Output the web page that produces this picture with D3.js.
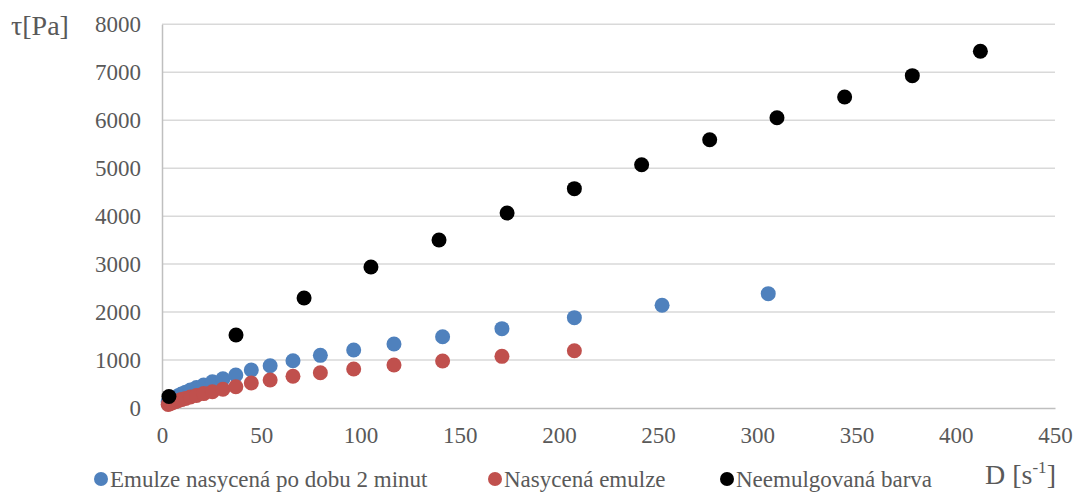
<!DOCTYPE html>
<html><head><meta charset="utf-8">
<script src="https://cdn.jsdelivr.net/npm/d3@7"></script>
<style>body{margin:0;background:#fff}svg{display:block}
svg text{font-family:"Times New Roman","Liberation Serif",Tinos,"DejaVu Serif",serif !important;fill:#595959}</style>
</head><body><svg id="c" width="1075" height="492"></svg>
<script>
const xTicks = [0,50,100,150,200,250,300,350,400,450];
const yTicks = [0,1000,2000,3000,4000,5000,6000,7000,8000];
const seriesNames = ["Emulze nasycená po dobu 2 minut","Nasycená emulze","Neemulgovaná barva"];
const seriesColors = ["#4F81BD","#C0504D","#000000"];

const blueX = [3.1,3.8,4.6,5.5,6.7,8.1,9.8,11.9,14.3,17.4,21.0,25.4,30.7,37.2,45.0,54.5,66.0,79.8,96.6,116.9,141.4,171.3,207.8,252.0,305.5];
const blueY = [130,150,170,195,225,255,290,330,375,425,480,548,611,688,792,882,986,1098,1209,1334,1487,1654,1884,2141,2384];
const redX = [3.1,3.8,4.6,5.5,6.7,8.1,9.8,11.9,14.3,17.4,21.0,25.4,30.7,37.2,45.0,54.5,66.0,79.8,96.6,116.9,141.4,171.3,207.8];
const redY = [75,88,101,116,133,152,175,200,230,262,300,340,390,444,521,584,661,736,813,897,980,1077,1195];
const blackX = [3.5,37.3,71.6,105.3,139.6,173.9,207.8,241.7,276.0,309.9,344.0,378.1,412.4];
const blackY = [240,1522,2293,2940,3503,4066,4573,5073,5594,6053,6485,6929,7437];

const FONT = '"Times New Roman","Liberation Serif",Tinos,"DejaVu Serif",serif';
const svg = d3.select("#c");
const x = d3.scaleLinear().domain([0,450]).range([162,1055]);
const y = d3.scaleLinear().domain([0,8000]).range([408,24.3]);

svg.append("g").selectAll("line").data(yTicks.filter(d=>d>0)).join("line")
  .attr("x1",x(0)).attr("x2",x(450)).attr("y1",d=>y(d)).attr("y2",d=>y(d))
  .attr("stroke","#d9d9d9").attr("stroke-width",1.5);

const gx = svg.append("g").attr("transform",`translate(0,${y(0)})`)
  .call(d3.axisBottom(x).tickValues(xTicks).tickFormat(d3.format("d")).tickSize(0).tickPadding(19));
gx.attr("font-family",FONT).attr("font-size",23);
gx.select(".domain").attr("stroke","#bfbfbf").attr("stroke-width",1.5);
gx.selectAll("text").attr("fill","#595959");

const gy = svg.append("g").attr("transform",`translate(${x(0)},0)`)
  .call(d3.axisLeft(y).tickValues(yTicks).tickFormat(d3.format("d")).tickSize(0).tickPadding(21));
gy.attr("font-family",FONT).attr("font-size",23);
gy.select(".domain").attr("stroke","#bfbfbf").attr("stroke-width",1.5);
gy.selectAll("text").attr("fill","#595959");

const series = [
  {x:blueX,y:blueY,c:seriesColors[0]},
  {x:redX,y:redY,c:seriesColors[1]},
  {x:blackX,y:blackY,c:seriesColors[2]}
];
series.forEach(s=>{
  svg.append("g").selectAll("circle").data(s.x.map((v,i)=>[v,s.y[i]])).join("circle")
    .attr("cx",d=>x(d[0])).attr("cy",d=>y(d[1])).attr("r",7.5).attr("fill",s.c);
});

svg.append("text").attr("x",11).attr("y",35).attr("font-family",FONT).attr("font-size",28).text("τ[Pa]");
const xt = svg.append("text").attr("x",985).attr("y",484).attr("font-family",FONT).attr("font-size",28);
xt.append("tspan").text("D [s");
xt.append("tspan").attr("dy",-11).attr("font-size",17).text("-1");
xt.append("tspan").attr("dy",11).text("]");

const legX = [101,495,727];
const lg = svg.append("g").attr("font-family",FONT).attr("font-size",23);
seriesNames.forEach((n,i)=>{
  lg.append("circle").attr("cx",legX[i]).attr("cy",479).attr("r",7).attr("fill",seriesColors[i]);
  lg.append("text").attr("x",legX[i]+9).attr("y",487).text(n);
});
</script></body></html>
